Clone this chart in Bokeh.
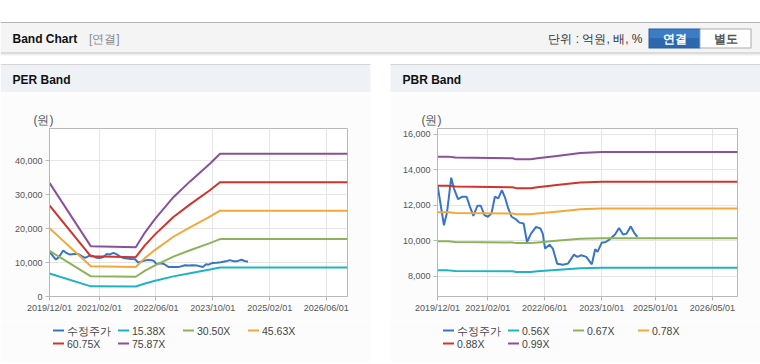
import datetime as dt
from bokeh.plotting import figure
from bokeh.layouts import column, row
from bokeh.models import (Range1d, DataRange1d, FixedTicker, DatetimeTickFormatter,
                          NumeralTickFormatter, Spacer)
from bokeh.embed import file_html
from bokeh.resources import INLINE
from bokeh.core.properties import value

# ---------------- data ----------------
price_label = "수정주가"
price_dates = ["2019-12-01", "2020-01-25", "2020-02-20", "2020-03-27", "2020-04-19", "2020-05-24",
               "2020-06-30", "2020-08-05", "2020-09-03", "2020-10-02", "2020-11-05", "2020-12-04",
               "2021-01-04", "2021-02-02", "2021-03-05", "2021-04-03", "2021-05-02", "2021-06-02",
               "2021-07-01", "2021-07-26", "2021-08-24", "2021-09-29", "2021-10-29", "2021-12-04",
               "2022-01-02", "2022-02-05", "2022-03-20", "2022-04-26", "2022-05-16", "2022-06-05",
               "2022-07-13", "2022-08-10", "2022-09-16", "2022-11-04", "2022-12-17", "2023-02-06",
               "2023-03-06", "2023-04-10", "2023-05-22", "2023-07-08", "2023-08-06", "2023-08-26",
               "2023-10-01", "2023-11-04", "2023-12-08", "2024-01-22", "2024-02-25", "2024-03-31",
               "2024-04-29", "2024-06-04", "2024-07-02", "2024-07-30"]
price_values = [13150, 10880, 11600, 13560, 12950, 12350,
                12490, 12490, 11920, 11410, 11980, 11980,
                11450, 11360, 11540, 12490, 12390, 12860,
                12390, 11830, 11360, 11220, 11030, 10980,
                9940, 10410, 10790, 10700, 10410, 9570,
                9790, 9570, 8720, 8660, 8720, 9230,
                9100, 9190, 9100, 8680, 9530, 9380,
                9900, 9940, 10090, 10360, 10730, 10360,
                10410, 10820, 10470, 10230]

# EPS basis of the PER band (band = EPS x multiple)
per_base_dates = ["2019-12-01", "2020-11-20", "2021-12-10", "2022-02-28", "2022-05-25",
                  "2022-10-29", "2023-03-21", "2023-09-07", "2023-12-03", "2026-12-01"]
per_base_eps = [441.5, 194.8, 190.9, 249.4, 301.3, 385.8, 447.0, 515.6, 554.5, 554.5]
per_multiples = [15.38, 30.50, 45.63, 60.75, 75.87]
per_labels = ["15.38X", "30.50X", "45.63X", "60.75X", "75.87X"]

# BPS basis of the PBR band (band = BPS x multiple)
pbr_base_dates = ["2019-12-01", "2020-03-01", "2020-05-01", "2021-09-01", "2021-10-01",
                  "2022-02-01", "2022-04-01", "2022-10-01", "2023-04-01", "2023-10-01", "2026-12-01"]
pbr_base_bps = [14895, 14895, 14840, 14800, 14740, 14740, 14800, 14950, 15100, 15157, 15157]
pbr_multiples = [0.56, 0.67, 0.78, 0.88, 0.99]
pbr_labels = ["0.56X", "0.67X", "0.78X", "0.88X", "0.99X"]

per_tick_labels = ["2019/12/01", "2021/02/01", "2022/06/01", "2023/10/01", "2025/02/01", "2026/06/01"]
pbr_tick_labels = ["2019/12/01", "2021/02/01", "2022/06/01", "2023/10/01", "2025/01/01", "2026/05/01"]
per_y_ticks = [0, 10000, 20000, 30000, 40000]
pbr_y_ticks = [8000, 10000, 12000, 14000, 16000]
x_start, x_end = "2019-12-01", "2026-12-01"
unit_label = "(원)"


def ms(s, fmt="%Y-%m-%d"):
    d = dt.datetime.strptime(s, fmt).replace(tzinfo=dt.timezone.utc)
    return d.timestamp() * 1000.0


# ---------------- style ----------------
FONT = "Liberation Sans"
PANEL_BG = "#fcfcfc"
FRAME_C = "#b8b8b8"
PRICE_C = "#3a74c6"
BAND_COLORS = ["#1fb3c6", "#8db35a", "#f2a93a", "#d2342c", "#8c4f9c"]
CHART_H = 36 + 168 + 24


def make_chart(band_dates, base, mults, y_range, y_ticks, tick_labels, ml, mr, fw):
    p = figure(frame_width=fw, frame_height=168, x_axis_type="datetime",
               x_range=DataRange1d(start=ms(x_start), end=ms(x_end), range_padding=0),
               y_range=DataRange1d(start=y_range[0], end=y_range[1], range_padding=0),
               title=unit_label,
               min_border_left=ml, min_border_right=mr, min_border_top=36, min_border_bottom=24,
               toolbar_location=None, output_backend="svg",
               background_fill_color="white", border_fill_color=PANEL_BG,
               outline_line_color=FRAME_C, outline_line_width=1)
    p.title.align = "left"
    p.title.offset = -16
    p.title.standoff = 4
    p.title.text_font = FONT
    p.title.text_font_size = "12px"
    p.title.text_font_style = "normal"
    p.title.text_color = "#555555"

    fmt = "%Y/%m/%d"
    p.xaxis.ticker = FixedTicker(ticks=[ms(t, fmt) for t in tick_labels])
    p.xaxis.formatter = DatetimeTickFormatter(microseconds=fmt, milliseconds=fmt, seconds=fmt,
                                              minsec=fmt, minutes=fmt, hourmin=fmt, hours=fmt,
                                              days=fmt, months=fmt, years=fmt)
    p.yaxis.ticker = FixedTicker(ticks=y_ticks)
    p.yaxis.formatter = NumeralTickFormatter(format="0,0")
    for ax in (p.xaxis[0], p.yaxis[0]):
        ax.axis_line_color = FRAME_C
        ax.major_tick_line_color = FRAME_C
        ax.major_tick_out = 4
        ax.major_tick_in = 0
        ax.minor_tick_line_color = None
        ax.major_label_text_font = FONT
        ax.major_label_text_font_size = "9px"
        ax.major_label_text_color = "#555555"
    p.xaxis.major_label_standoff = 2
    p.yaxis.major_label_standoff = 3
    p.grid.grid_line_color = "#e6e6e6"

    p.line(x=[ms(d) for d in price_dates], y=price_values, line_color=PRICE_C, line_width=2)
    bx = [ms(d) for d in band_dates]
    for m, c in zip(mults, BAND_COLORS):
        p.line(x=bx, y=[b * m for b in base], line_color=c, line_width=2)
    return p


per = make_chart(per_base_dates, per_base_eps, per_multiples, (0, 49500),
                 per_y_ticks, per_tick_labels, 49, 23, 298)
pbr = make_chart(pbr_base_dates, pbr_base_bps, pbr_multiples, (6870, 16330),
                 pbr_y_ticks, pbr_tick_labels, 47, 23, 300)


def canvas(height, y_top):
    c = figure(width=760, height=height, x_range=Range1d(0, 760),
               y_range=Range1d(y_top + height, y_top),
               x_axis_type=None, y_axis_type=None, min_border=0, toolbar_location=None,
               output_backend="svg", outline_line_color=None,
               background_fill_color="white", border_fill_color="white")
    return c


def add_boxes(c, boxes):
    c.quad(left=[b[0] for b in boxes], right=[b[1] for b in boxes],
           top=[b[2] for b in boxes], bottom=[b[3] for b in boxes],
           fill_color=[b[4] for b in boxes], line_color=None)


def add_text(c, x, y, t, color, bold=False, align="left", size="12px"):
    c.text(x=[x], y=[y], text=[t], text_font=value(FONT), text_font_size=size,
           text_font_style="bold" if bold else "normal", text_color=color,
           text_align=align, text_baseline="middle")


# ---------------- header canvas (page pixel coordinates) ----------------
head = canvas(92, 0)
add_boxes(head, [
    (0, 760, 21.5, 22.5, "#b4b4b4"),
    (0, 760, 22.5, 52, "#f4f4f4"),
    (0, 760, 52, 53, "#bdbdbd"),
    (0, 760, 53, 54, "#dadada"),
    (0, 760, 54, 55, "#efefef"),
    (648, 700, 28, 48, "#2b5f9f"),
    (649, 699, 29, 38, "#3b7cc5"),
    (649, 699, 38, 47, "#2d67ae"),
    (699, 751, 28, 48, "#ababab"),
    (700, 750, 29, 47, "#ffffff"),
    (0, 370, 63.5, 64.5, "#d5d5d5"),
    (0, 370, 64.5, 92, "#eef2f7"),
    (390, 760, 63.5, 64.5, "#d5d5d5"),
    (390, 760, 64.5, 92, "#eef2f7"),
])
add_text(head, 12, 38.5, "Band Chart", "#111111", bold=True)
add_text(head, 88.5, 38.5, "[연결]", "#8a8a8a")
add_text(head, 642, 38.5, "단위 : 억원, 배, %", "#333333", align="right")
add_text(head, 674, 38.5, "연결", "#ffffff", bold=True, align="center")
add_text(head, 725, 38.5, "별도", "#555555", bold=True, align="center")
add_text(head, 12, 79.5, "PER Band", "#111111", bold=True)
add_text(head, 402, 79.5, "PBR Band", "#111111", bold=True)

# ---------------- legend canvas ----------------
LEG_TOP = 92 + CHART_H
LEG_H = 362 - LEG_TOP
leg = canvas(LEG_H, LEG_TOP)
add_boxes(leg, [(0, 370, LEG_TOP, 362, PANEL_BG), (390, 760, LEG_TOP, 362, PANEL_BG)])
leg_colors = [PRICE_C] + BAND_COLORS
for x0, labs in ((52.5, [price_label] + per_labels), (442.5, [price_label] + pbr_labels)):
    for i, (lab, col) in enumerate(zip(labs, leg_colors)):
        cx = x0 + 65 * (i % 4)
        cy = 330 + 13 * (i // 4)
        leg.segment(x0=[cx], y0=[cy], x1=[cx + 11], y1=[cy], line_color=col, line_width=2)
        add_text(leg, cx + 14, cy, lab, "#444444", size="10.5px")

# ---------------- footer (panel bottom edges) ----------------
foot = canvas(2, 362)
add_boxes(foot, [(0, 370, 362, 363, PANEL_BG), (390, 760, 362, 363, PANEL_BG),
                 (0, 370, 363, 364, "#dcdcdc"), (390, 760, 363, 364, "#dcdcdc")])

layout = column(head, row(per, Spacer(width=20, height=CHART_H), pbr), leg, foot)

open("out.html", "w").write(file_html(layout, INLINE))
